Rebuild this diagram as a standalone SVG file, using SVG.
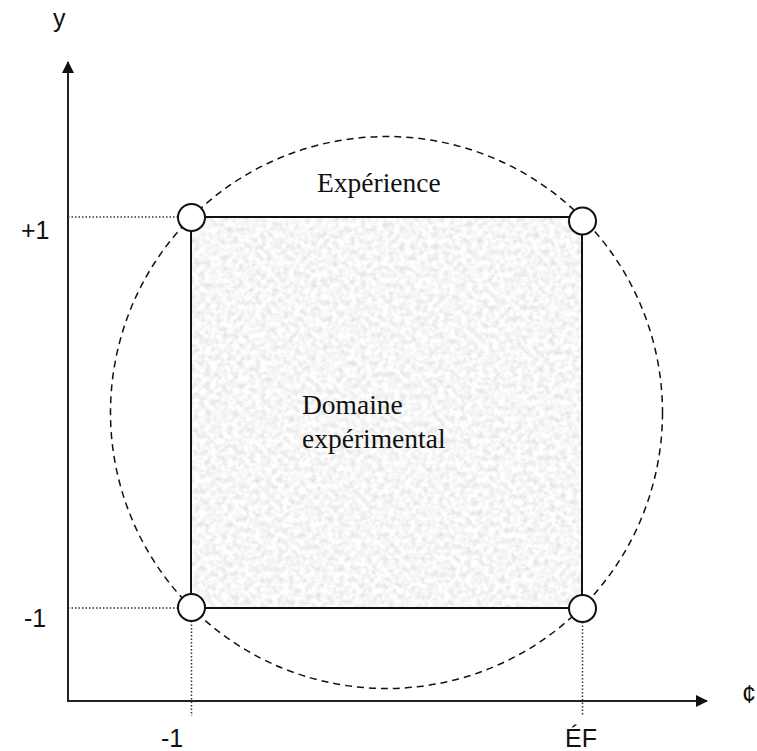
<svg xmlns="http://www.w3.org/2000/svg" width="757" height="751" viewBox="0 0 757 751">
<style>
.ax{stroke:#222;stroke-width:2;fill:none}
.dot{stroke:#333;stroke-width:1.5;stroke-dasharray:1.5 2;fill:none}
.lbl{font-family:"Liberation Sans",Arial,sans-serif;font-size:25px;fill:#111}
.ser{font-family:"Liberation Serif","Times New Roman",serif;font-size:27.5px;fill:#111}
.pt{fill:#fff;stroke:#111;stroke-width:2}
</style>
<defs>
<marker id="arr" markerWidth="12" markerHeight="12" refX="11" refY="6" orient="auto" markerUnits="userSpaceOnUse">
<path d="M0,0 L12,6 L0,12 Z" fill="#111"/>
</marker>
<filter id="grain" x="0" y="0" width="100%" height="100%">
<feTurbulence type="fractalNoise" baseFrequency="0.18" numOctaves="4" seed="7" result="n"/>
<feColorMatrix in="n" type="matrix" values="0.45 0 0 0 0.7  0.45 0 0 0 0.7  0.45 0 0 0 0.7  0 0 0 0 1" result="g"/>
<feComposite in="g" in2="SourceGraphic" operator="in"/>
</filter>
</defs>
<g id="domain">
<rect x="191" y="217" width="391" height="391" fill="#ebebeb" filter="url(#grain)"/>
<rect x="191" y="217" width="391" height="391" fill="none" stroke="#111" stroke-width="2"/>
</g>
<g id="connectors">
<line class="ax" x1="68" y1="701" x2="68" y2="62" marker-end="url(#arr)"/>
<line class="ax" x1="67" y1="701" x2="707" y2="701" marker-end="url(#arr)"/>
<circle cx="386.5" cy="412.5" r="276" fill="none" stroke="#111" stroke-width="1.5" stroke-dasharray="7 5"/>
<line class="dot" x1="68" y1="217" x2="178" y2="217"/>
<line class="dot" x1="68" y1="608" x2="178" y2="608"/>
<line class="dot" x1="191.5" y1="621" x2="191.5" y2="716"/>
<line class="dot" x1="582.5" y1="622" x2="582.5" y2="716"/>
</g>
<g id="p1"><circle class="pt" cx="191.5" cy="217.5" r="13.5"/></g>
<g id="p2"><circle class="pt" cx="582.5" cy="221" r="13.5"/></g>
<g id="p3"><circle class="pt" cx="191.5" cy="607.5" r="13.5"/></g>
<g id="p4"><circle class="pt" cx="582.5" cy="608.5" r="13.5"/></g>
<g id="labels">
<text class="lbl" x="53" y="27">y</text>
<text class="lbl" x="21" y="239">+1</text>
<text class="lbl" x="24" y="627">-1</text>
<text class="lbl" x="161" y="747">-1</text>
<text class="lbl" x="565" y="747">ÉF</text>
<text class="lbl" x="742" y="703">¢</text>
<text class="ser" x="317" y="192">Expérience</text>
<text class="ser" x="302" y="414">Domaine</text>
<text class="ser" x="302" y="448">expérimental</text>
</g>
</svg>
